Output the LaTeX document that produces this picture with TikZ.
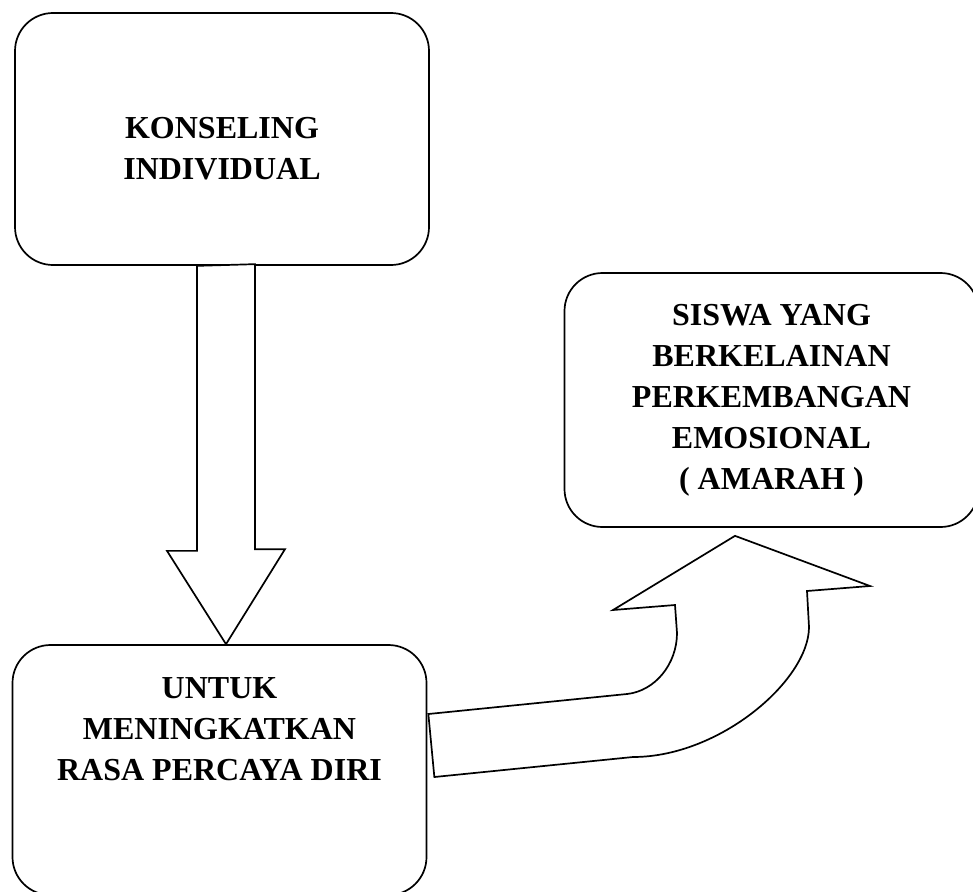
\documentclass[tikz,border=0pt]{standalone}
\usepackage{fontspec}
\setmainfont{Liberation Serif}
\usepackage{tikz}
\usetikzlibrary{calc, positioning}
\tikzstyle{box}=[draw,fill=white,rectangle,rounded corners=38pt,line width=1.7pt,
  minimum width=414pt,minimum height=252pt,inner sep=0pt,align=center]
\tikzstyle{fatarrow}=[draw,fill=white,line width=1.7pt,line join=miter]
\tikzstyle{every node}=[font=\bfseries\fontsize{32}{41}\selectfont]

\begin{document}
\begin{tikzpicture}[x=1pt,y=-1pt]
    \useasboundingbox (0,0) rectangle (973,891);
    \node[box] (konseling) at (222,139) {\rule{0pt}{41pt}KONSELING\\INDIVIDUAL};
    \node[box, below of=konseling, node distance=631pt, xshift=-2.5pt, minimum height=250pt] (untuk) {UNTUK\\MENINGKATKAN\\RASA PERCAYA DIRI\\~\\~};
    \node[box, minimum height=254pt] (siswa) at (771.5,400) {SISWA YANG\\BERKELAINAN\\PERKEMBANGAN\\EMOSIONAL\\( AMARAH )};
    % panah ke bawah
    \draw[fatarrow] ($(konseling.south)+(-25,0)$) -- ++(0,285) -- ++(-30,0)
        -- ($(untuk.north)+(6.5,0)$) -- ++(59,-95) -- ++(-30,0) -- ++(0,-285) -- cycle;
    % panah melengkung ke atas
    \draw[fatarrow] ($(untuk.east)+(1,-56)$) -- (627,694)
        .. controls (655,691) and (677,664) .. (677,633) -- (675,605) -- (613,610)
        -- ($(siswa.south)+(-36.5,8)$) -- (870,586) -- (807,591) -- (809,627)
        .. controls (809,680) and (720,757) .. (633,757)
        -- ($(untuk.east)+(7,7)$) -- cycle;
\end{tikzpicture}
\end{document}
